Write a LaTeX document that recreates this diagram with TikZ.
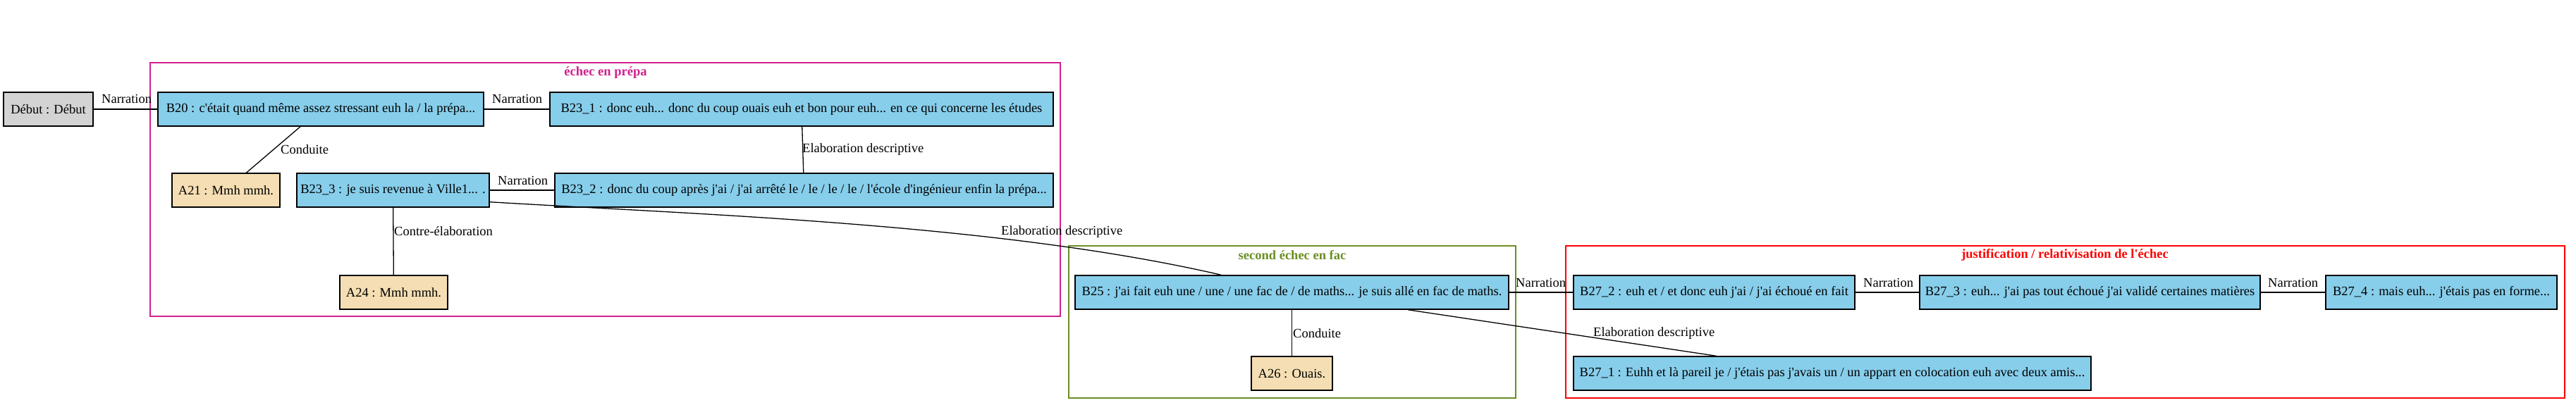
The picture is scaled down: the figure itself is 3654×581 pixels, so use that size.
\documentclass[tikz,border=0pt]{standalone}
\usepackage{fontspec}
\setmainfont{Liberation Serif}[Ligatures=TeXOff]
\definecolor{bluefill}{HTML}{87CEEB}
\definecolor{grayfill}{HTML}{D3D3D3}
\definecolor{tanfill}{HTML}{F5DEB3}
\definecolor{pinkc}{HTML}{D02090}
\definecolor{greenc}{HTML}{6B8E23}
\definecolor{redc}{HTML}{FF0000}
\begin{document}
\begin{tikzpicture}[x=1pt,y=-1pt,
  every node/.style={font=\fontsize{18.5}{22}\selectfont},
  box/.style={draw=black, line width=1.4pt, rectangle, minimum height=48pt, inner sep=0pt},
  bbox/.style={box, fill=bluefill},
  gbox/.style={box, fill=grayfill},
  tbox/.style={box, fill=tanfill},
  clus/.style={line width=1.3pt},
  clab/.style={font=\fontsize{18.5}{22}\selectfont\bfseries, inner sep=0pt},
  lbl/.style={inner sep=0pt, anchor=west},
  edge/.style={line width=1.3pt, black}]
\useasboundingbox (0,0) rectangle (3654,581);
% clusters
\draw[clus, draw=pinkc] (213,89) rectangle (1504,449);
\node[clab, text=pinkc] (c1lab) at (859,103) {échec en prépa};
\draw[clus, draw=greenc] (1516,349) rectangle (2150,565);
\node[clab, text=greenc] (c2lab) at (1833,362) {second échec en fac};
\draw[clus, draw=redc] (2221,349) rectangle (3638,565);
\node[clab, text=redc] (c3lab) at (2929,362) {justification / relativisation de l'échec};
% nodes
\node[gbox, minimum width=127pt] (debut) at (68.5,155) {Début : Début};
\node[bbox, minimum width=462pt] (b20) at (455,155) {B20 : c'était quand même assez stressant euh la / la prépa...};
\node[bbox, minimum width=714pt] (b231) at (1137,155) {B23\_1 : donc euh... donc du coup ouais euh et bon pour euh... en ce qui concerne les études};
\node[tbox, minimum width=153pt] (a21) at (320.5,270) {A21 : Mmh mmh.};
\node[bbox, minimum width=273pt] (b233) at (557.5,270) {B23\_3 : je suis revenue à Ville1... .};
\node[bbox, minimum width=707pt] (b232) at (1140.5,270) {B23\_2 : donc du coup après j'ai / j'ai arrêté le / le / le / le / l'école d'ingénieur enfin la prépa...};
\node[tbox, minimum width=153pt] (a24) at (558.5,415) {A24 : Mmh mmh.};
\node[bbox, minimum width=615pt] (b25) at (1832.5,415) {B25 : j'ai fait euh une / une / une fac de / de maths... je suis allé en fac de maths.};
\node[tbox, minimum width=115pt] (a26) at (1832.5,530) {A26 : Ouais.};
\node[bbox, minimum width=399pt] (b272) at (2431.5,415) {B27\_2 : euh et / et donc euh j'ai / j'ai échoué en fait};
\node[bbox, minimum width=483pt] (b273) at (2964.5,415) {B27\_3 : euh... j'ai pas tout échoué j'ai validé certaines matières};
\node[bbox, minimum width=328pt] (b274) at (3463,415) {B27\_4 : mais euh... j'étais pas en forme...};
\node[bbox, minimum width=734pt] (b271) at (2599,530) {B27\_1 : Euhh et là pareil je / j'étais pas j'avais un / un appart en colocation euh avec deux amis...};
% edges
\draw[edge] (debut) -- (b20);
\node[lbl] (l1) at (144,140) {Narration};
\draw[edge] (b20) -- (b231);
\node[lbl] (l2) at (698,140) {Narration};
\draw[edge] (b20) -- (a21);
\node[lbl] (l3) at (398,212) {Conduite};
\draw[edge] (b231) -- (b232);
\node[lbl] (l4) at (1138,212) {Elaboration descriptive};
\draw[edge] (b233.east) -- (b232.west |- b233.east);
\node[lbl] (l5) at (706,256) {Narration};
\draw[edge] (b233) -- (a24);
\node[lbl] (l6) at (559,328) {Contre-élaboration};
\draw[edge] ([yshift=8pt]b233.south east) .. controls (1000,305) and (1420,318) .. ([xshift=208pt]b25.north west);
\node[lbl] (l7) at (1420,329) {Elaboration descriptive};
\draw[edge] (b25) -- (a26);
\node[lbl] (l8) at (1834,473) {Conduite};
\draw[edge] (b25) -- (b272);
\node[lbl] (l9) at (2150,401) {Narration};
\draw[edge] (b25) -- (b271);
\node[lbl] (l10) at (2260,473) {Elaboration descriptive};
\draw[edge] (b272) -- (b273);
\node[lbl] (l11) at (2643,401) {Narration};
\draw[edge] (b273) -- (b274);
\node[lbl] (l12) at (3217,401) {Narration};
\end{tikzpicture}
\end{document}
